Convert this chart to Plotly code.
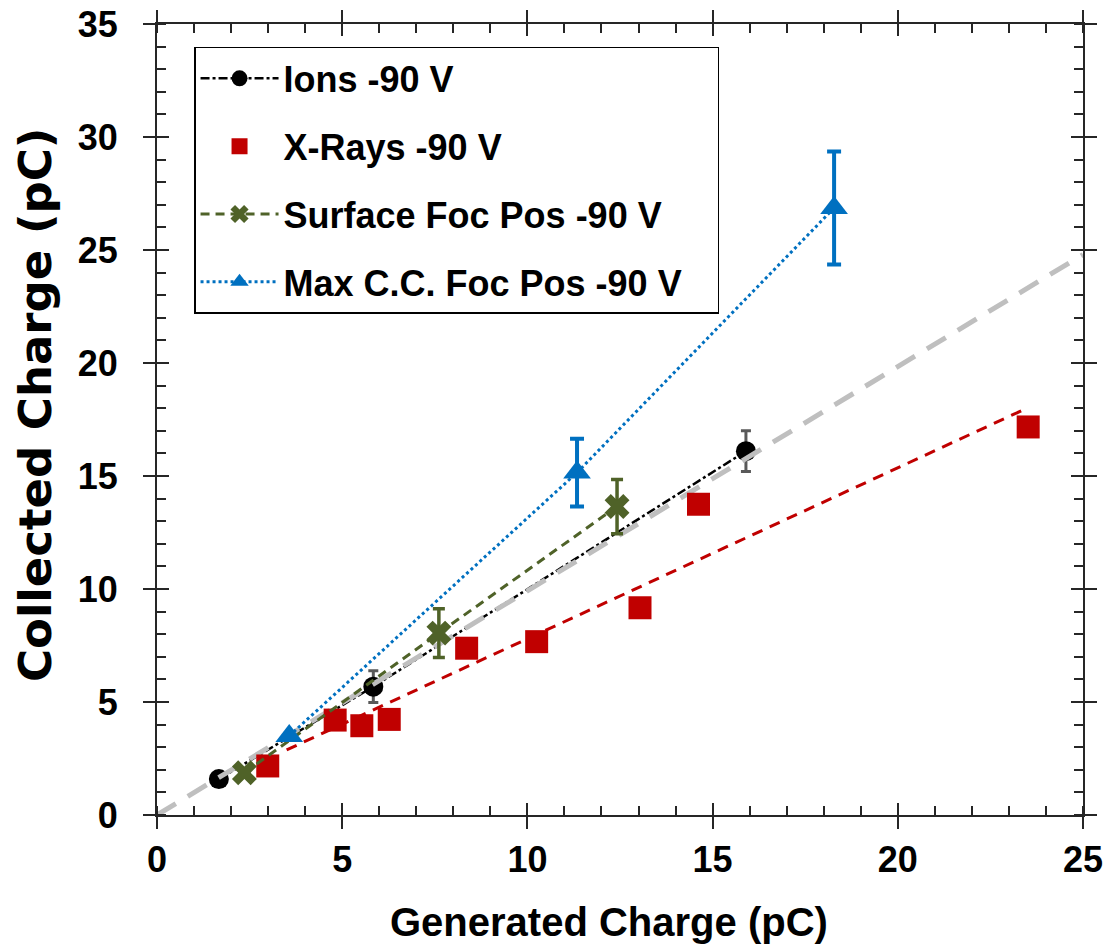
import plotly.graph_objects as go

# ---- data ----
ions_x = [1.67, 5.84, 15.9]
ions_y = [1.59, 5.68, 16.1]
ions_err = [0.0, 0.7, 0.9]

xray_x = [2.99, 4.81, 5.53, 6.27, 8.36, 10.25, 13.04, 14.62, 23.52]
xray_y = [2.17, 4.20, 3.95, 4.23, 7.38, 7.67, 9.17, 13.75, 17.17]

xray_fit_x = [3.5, 23.34]
xray_fit_y = [2.88, 17.89]

surf_x = [2.36, 7.61, 12.42]
surf_y = [1.87, 8.05, 13.65]
surf_err = [0.0, 1.08, 1.2]

maxcc_x = [3.57, 11.34, 18.28]
maxcc_y = [3.5, 15.15, 26.86]
maxcc_err = [0.0, 1.5, 2.5]

unity_x = [0, 25]
unity_y = [0, 24.8]

x_title = "Generated Charge (pC)"
y_title = "Collected Charge (pC)"

BLACK = "#000000"
RED = "#C00000"
GREEN = "#4F6228"
BLUE = "#0070C0"
GREY = "#BFBFBF"
FONT = "Liberation Sans"
PAD = "\u00a0\u00a0\u00a0"

fig = go.Figure()

fig.add_trace(go.Scatter(
    x=ions_x, y=ions_y, mode="lines+markers", name="Ions -90 V" + PAD,
    line=dict(color=BLACK, width=2.5, dash="dashdot"),
    marker=dict(symbol="circle", size=20, color=BLACK),
    error_y=dict(type="data", array=ions_err, color="#595959", thickness=3, width=5),
    legendgroup="a", legendrank=1))

fig.add_trace(go.Scatter(
    x=unity_x, y=unity_y, mode="lines", showlegend=False,
    line=dict(color=GREY, width=5, dash="22px,14px")))

fig.add_trace(go.Scatter(
    x=xray_fit_x, y=xray_fit_y, mode="lines", showlegend=False,
    line=dict(color=RED, width=3, dash="11px,8px")))

fig.add_trace(go.Scatter(
    x=xray_x, y=xray_y, mode="markers", name="X-Rays -90 V" + PAD,
    marker=dict(symbol="square", size=23, color=RED),
    legendgroup="b", legendrank=2))

fig.add_trace(go.Scatter(
    x=surf_x, y=surf_y, mode="lines+markers", name="Surface Foc Pos -90 V" + PAD,
    line=dict(color=GREEN, width=3, dash="9px,6px"),
    marker=dict(symbol="x", size=22, color=GREEN),
    error_y=dict(type="data", array=surf_err, color=GREEN, thickness=3.5, width=6),
    legendgroup="c", legendrank=3))

fig.add_trace(go.Scatter(
    x=maxcc_x, y=maxcc_y, mode="lines+markers", name="Max C.C. Foc Pos -90 V" + PAD,
    line=dict(color=BLUE, width=3, dash="dot"),
    marker=dict(symbol="triangle-up", size=24, color=BLUE),
    error_y=dict(type="data", array=maxcc_err, color=BLUE, thickness=4, width=7),
    legendgroup="d", legendrank=4))

tickfont = dict(family=FONT, size=36, color=BLACK, weight="bold")

axis_common = dict(
    showgrid=False, zeroline=False, showline=True, linecolor="#262626", linewidth=2,
    ticks="outside", ticklen=12, tickwidth=2, tickcolor="#262626", mirror="ticks",
    tickfont=tickfont, automargin=False,
)

fig.update_layout(
    width=1109, height=945,
    margin=dict(l=157, r=26, t=24, b=130),
    paper_bgcolor="white", plot_bgcolor="white",
    xaxis=dict(range=[0, 25], dtick=5, tick0=0, ticklabelstandoff=0,
               minor=dict(dtick=1, ticks="inside", ticklen=9, tickwidth=1.5, tickcolor="#262626"),
               **axis_common),
    yaxis=dict(range=[0, 35], dtick=5, tick0=0, ticklabelstandoff=18,
               minor=dict(dtick=1, ticks="inside", ticklen=9, tickwidth=1.5, tickcolor="#262626"),
               **axis_common),
    xaxis2=dict(range=[0, 25], dtick=5, tick0=0, overlaying="x", side="bottom",
                showgrid=False, zeroline=False, showline=False, showticklabels=False,
                ticks="inside", ticklen=12, tickwidth=2, tickcolor="#262626", mirror="ticks",
                automargin=False),
    yaxis2=dict(range=[0, 35], dtick=5, tick0=0, overlaying="y", side="left",
                showgrid=False, zeroline=False, showline=False, showticklabels=False,
                ticks="inside", ticklen=12, tickwidth=2, tickcolor="#262626", mirror="ticks",
                automargin=False),
    legend=dict(
        x=0.04, y=0.971, xanchor="left", yanchor="top",
        bgcolor="white", bordercolor=BLACK, borderwidth=1.5,
        font=dict(family=FONT, size=36, color=BLACK, weight="bold"),
        tracegroupgap=18, itemwidth=78,
    ),
    showlegend=True,
    annotations=[
        dict(text=x_title, xref="paper", yref="paper", x=0.4886, y=-0.135,
             xanchor="center", yanchor="middle", showarrow=False,
             font=dict(family=FONT, size=40, color=BLACK, weight="bold")),
        dict(text=y_title, xref="paper", yref="paper", x=-0.132, y=0.518,
             xanchor="center", yanchor="middle", showarrow=False, textangle=-90,
             font=dict(family="DejaVu Sans", size=45, color=BLACK, weight="bold")),
    ],
)

# dummy invisible trace so the overlay axes are drawn
fig.add_trace(go.Scatter(x=[None], y=[None], xaxis="x2", yaxis="y2",
                         showlegend=False, hoverinfo="skip"))

fig.write_html("out.html")
